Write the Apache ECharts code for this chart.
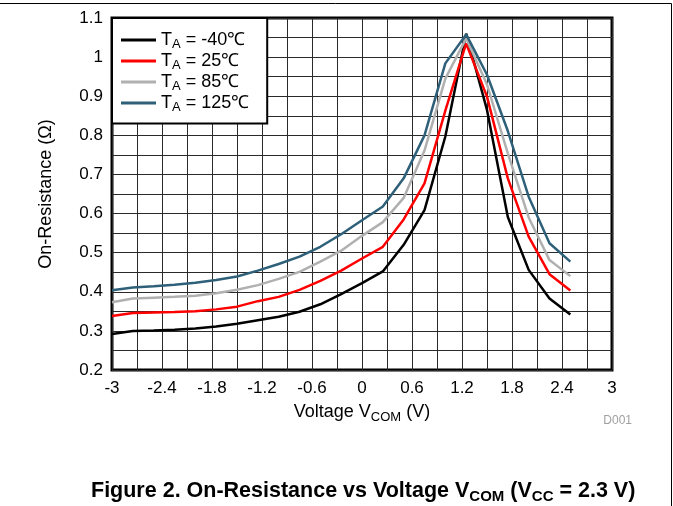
<!DOCTYPE html>
<html>
  <head>
    <meta charset="UTF-8" />
    <title>On-Resistance vs Voltage</title>
    <style>
      html, body { margin: 0; padding: 0; background: #fff; }
      #chart { width: 673px; height: 506px; }
    </style>
  </head>
  <body>
    <div id="chart"></div>
    <script src="https://cdn.jsdelivr.net/npm/echarts@6/dist/echarts.min.js"></script>
    <script>
      // data
      var voltage = [-3, -2.75, -2.5, -2.25, -2, -1.75, -1.5, -1.25, -1, -0.75, -0.5, -0.25,
        0, 0.25, 0.5, 0.75, 1, 1.25, 1.5, 1.75, 2, 2.25, 2.5];
      var rMinus40 = [0.292, 0.300, 0.301, 0.303, 0.306, 0.311, 0.318, 0.327, 0.336, 0.349, 0.368, 0.394,
        0.422, 0.452, 0.52, 0.609, 0.797, 1.06, 0.865, 0.591, 0.456, 0.383, 0.342];
      var r25 = [0.338, 0.346, 0.347, 0.348, 0.350, 0.355, 0.362, 0.376, 0.387, 0.405, 0.428, 0.454,
        0.485, 0.515, 0.585, 0.677, 0.863, 1.035, 0.899, 0.690, 0.541, 0.445, 0.403];
      var r85 = [0.373, 0.383, 0.385, 0.387, 0.390, 0.396, 0.405, 0.417, 0.433, 0.451, 0.477, 0.505,
        0.543, 0.578, 0.64, 0.761, 0.945, 1.048, 0.93, 0.754, 0.59, 0.481, 0.44];
      var r125 = [0.404, 0.411, 0.414, 0.418, 0.423, 0.430, 0.439, 0.454, 0.471, 0.49, 0.515, 0.547,
        0.583, 0.618, 0.69, 0.80, 0.984, 1.058, 0.955, 0.811, 0.643, 0.524, 0.477];
      var tempNames = ["-40℃", "25℃", "85℃", "125℃"];
      var xTickLabels = ["-3", "-2.4", "-1.8", "-1.2", "-0.6", "0", "0.6", "1.2", "1.8", "2.4", "3"];
      var yTickLabels = ["0.2", "0.3", "0.4", "0.5", "0.6", "0.7", "0.8", "0.9", "1", "1.1"];

      var colors = ["#000000", "#ff0000", "#b0b0b0", "#2f6079"];
      var font = "Liberation Sans, Arial, sans-serif";

      function pick(labels) {
        return function (v) {
          for (var i = 0; i < labels.length; i++) {
            if (Math.abs(Number(labels[i]) - v) < 1e-6) return labels[i];
          }
          return "";
        };
      }

      function toPairs(ys) {
        return voltage.map(function (v, i) { return [v, ys[i]]; });
      }

      var allR = [rMinus40, r25, r85, r125];
      var series = allR.map(function (ys, i) {
        return {
          name: tempNames[i],
          type: "line",
          data: toPairs(ys),
          symbol: "none",
          lineStyle: { color: colors[i], width: 2.5 },
          itemStyle: { color: colors[i] },
          z: 3 + i
        };
      });

      var chart = echarts.init(document.getElementById("chart"));
      chart.setOption({
        animation: false,
        textStyle: { fontFamily: font },
        grid: {
          left: 112, right: 61, top: 18, bottom: 136,
          show: true, borderColor: "#000", borderWidth: 3
        },
        legend: {
          orient: "vertical",
          left: 112, top: 18,
          backgroundColor: "#fff",
          borderColor: "#000",
          borderWidth: 2,
          padding: [13, 18, 10, 9],
          icon: "rect",
          itemWidth: 35,
          itemHeight: 3,
          itemGap: 1.5,
          formatter: function (n) { return "{t|T}{s|A}{t| = " + n + "}"; },
          textStyle: {
            color: "#000",
            rich: {
              t: { fontSize: 18, fontFamily: font, lineHeight: 21, verticalAlign: "middle", color: "#000" },
              s: { fontSize: 13, fontFamily: font, lineHeight: 14, verticalAlign: "bottom", color: "#000" }
            }
          },
          data: tempNames
        },
        xAxis: {
          type: "value",
          min: -3, max: 3, interval: 0.3,
          name: "{a|Voltage V}{b|COM}{a| (V)}",
          nameLocation: "middle",
          nameGap: 30,
          nameTextStyle: {
            rich: {
              a: { fontSize: 18, fontFamily: font, lineHeight: 24, verticalAlign: "middle", color: "#000" },
              b: { fontSize: 13, fontFamily: font, lineHeight: 15, verticalAlign: "bottom", color: "#000" }
            }
          },
          axisLine: { show: false },
          axisTick: { show: false },
          axisLabel: { color: "#000", fontSize: 17, margin: 10, formatter: pick(xTickLabels),
            showMinLabel: true, showMaxLabel: true },
          splitLine: { show: true, lineStyle: { color: "#2a2a2a", width: 1 } }
        },
        yAxis: {
          type: "value",
          min: 0.2, max: 1.1, interval: 0.05,
          name: "On-Resistance (Ω)",
          nameLocation: "middle",
          nameGap: 57,
          nameTextStyle: { fontSize: 18, color: "#000" },
          axisLine: { show: false },
          axisTick: { show: false },
          axisLabel: { color: "#000", fontSize: 17, margin: 9, formatter: pick(yTickLabels),
            showMinLabel: true, showMaxLabel: true },
          splitLine: { show: true, lineStyle: { color: "#2a2a2a", width: 1 } }
        },
        graphic: [
          { type: "line", shape: { x1: 0, y1: 3.5, x2: 671.5, y2: 3.5 }, style: { stroke: "#000", lineWidth: 1 } },
          { type: "line", shape: { x1: 671.5, y1: 3.5, x2: 671.5, y2: 506 }, style: { stroke: "#000", lineWidth: 1 } },
          { type: "text", right: 41, top: 415, style: { text: "D001", fill: "#a0a0a0", fontSize: 12, fontFamily: font } },
          {
            type: "text", left: 91, top: 480,
            style: {
              text: "{a|Figure 2. On-Resistance vs Voltage V}{b|COM}{a| (V}{b|CC}{a| = 2.3 V)}",
              rich: {
                a: { fontSize: 21.5, fontWeight: "bold", fontFamily: font, lineHeight: 26, verticalAlign: "middle", fill: "#000" },
                b: { fontSize: 15, fontWeight: "bold", fontFamily: font, lineHeight: 17, verticalAlign: "bottom", fill: "#000" }
              }
            }
          }
        ],
        series: series
      });
    </script>
  </body>
</html>
